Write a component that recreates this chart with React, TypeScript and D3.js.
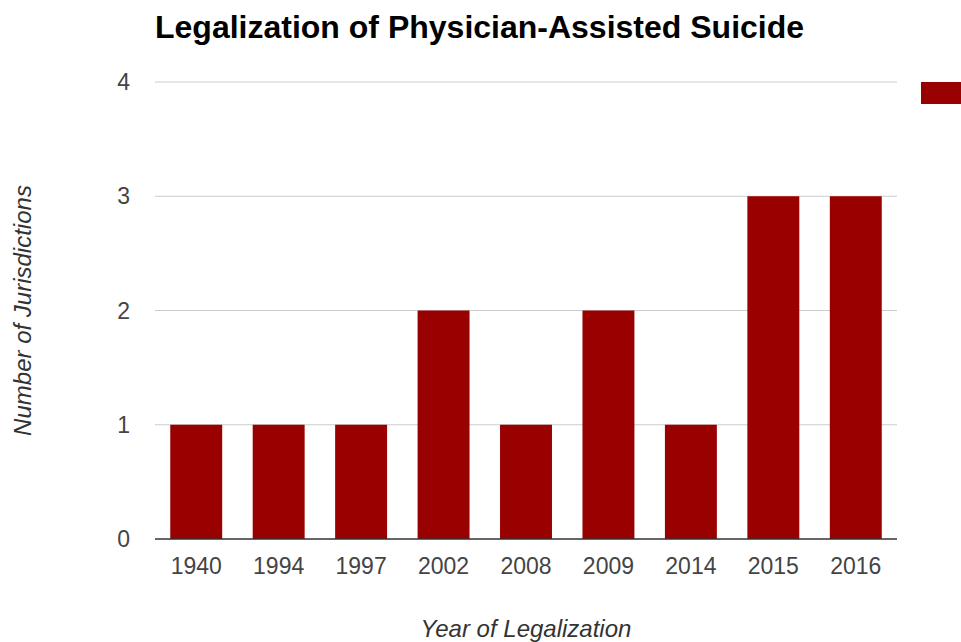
import React from "react";
import * as d3 from "d3";

const categories = ["1940", "1994", "1997", "2002", "2008", "2009", "2014", "2015", "2016"];
const values = [1, 1, 1, 2, 1, 2, 1, 3, 3];
const yTicks = [0, 1, 2, 3, 4];

const W = 961;
const H = 642;
const M = { left: 155, right: 897, top: 82, bottom: 539 };
const FONT = "'Liberation Sans', Arial, sans-serif";

export default function App() {
  const x = d3.scaleBand<string>().domain(categories).range([M.left, M.right]).paddingInner(0.37).paddingOuter(0.185);
  const y = d3.scaleLinear().domain([0, 4]).range([M.bottom, M.top]);
  return (
    <svg width={W} height={H} style={{ position: "absolute", left: 0, top: 0, background: "#fff" }} fontFamily={FONT}>
      <rect width={W} height={H} fill="#fff" />
      <text x={155} y={38} fontSize={32} fontWeight="bold" fill="#000">Legalization of Physician-Assisted Suicide</text>
      {yTicks.map((t) => (
        <g key={t}>
          {t !== 0 && <line x1={M.left} x2={M.right} y1={y(t)} y2={y(t)} stroke="#cccccc" strokeWidth={1} />}
          <text x={130} y={y(t)} dy="0.35em" textAnchor="end" fontSize={23} fill="#444">{t}</text>
        </g>
      ))}
      {categories.map((c, i) => (
        <g key={c}>
          <rect x={x(c)} y={y(values[i])} width={x.bandwidth()} height={y(0) - y(values[i])} fill="#990000" />
          <text x={(x(c) as number) + x.bandwidth() / 2} y={574} textAnchor="middle" fontSize={23} fill="#444">{c}</text>
        </g>
      ))}
      <line x1={M.left} x2={M.right} y1={y(0)} y2={y(0)} stroke="#333" strokeWidth={1.5} />
      <text x={(M.left + M.right) / 2} y={637} textAnchor="middle" fontSize={24} fontStyle="italic" fill="#333">Year of Legalization</text>
      <text transform={`translate(31,${(M.top + M.bottom) / 2}) rotate(-90)`} textAnchor="middle" fontSize={24} fontStyle="italic" fill="#333">Number of Jurisdictions</text>
      <rect x={921} y={82} width={45} height={22} fill="#990000" />
    </svg>
  );
}
